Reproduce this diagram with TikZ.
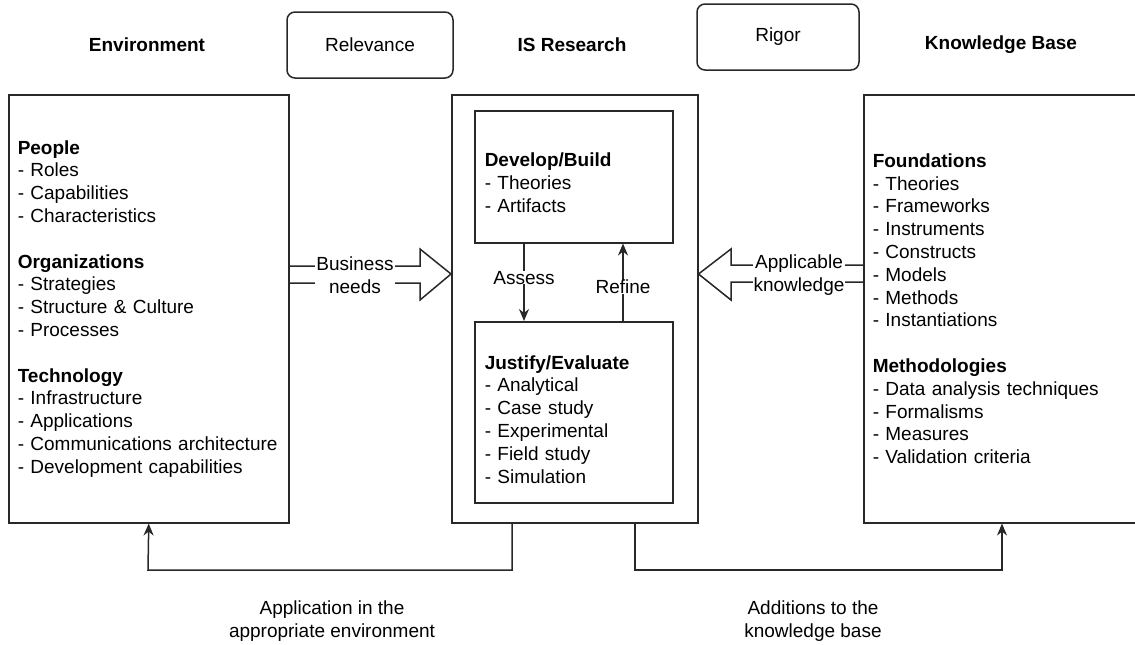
\documentclass[tikz,border=0pt]{standalone}
\usepackage{fontspec}
\setmainfont{Liberation Sans}
\usetikzlibrary{positioning, arrows.meta, calc}
\definecolor{linegray}{RGB}{40,40,40}

\begin{document}
\begin{tikzpicture}[
  x=1pt, y=-1pt,
  font=\fontsize{19}{22.8}\selectfont,
  box/.style={draw=linegray, line width=1.5pt, align=left, anchor=north west,
              inner xsep=9pt, inner ysep=0pt},
  tag/.style={draw=linegray, line width=1.5pt, rounded corners=8pt, minimum height=66pt},
  title/.style={font=\fontsize{19}{22.8}\selectfont\bfseries},
  lbl/.style={align=center, inner xsep=1pt, inner ysep=0pt},
  blockarrow/.style={draw=linegray, line width=1.5pt, line join=miter},
  arr/.style={-{Stealth[length=12pt, width=10pt]}, draw=linegray, line width=1.5pt}
]
  \useasboundingbox (0,0) rectangle (1135,645);
  \clip (0,0) rectangle (1135,645);

  % titles on top
  \node[title] (envtitle) at (147,45) {Environment};
  \node[tag, minimum width=166pt] (relevance) at (370,45) {Relevance};
  \node[title] (istitle) at (572,45) {IS Research};
  \node[tag, minimum width=162pt] (rigor) at (778,37) {Rigor};
  \node[title] (kbtitle) at (1001,45) {Knowledge Base};

  % the three columns
  \node[box, minimum width=280pt, minimum height=428pt, text width=262pt] (env) at (8,94)
    {\textbf{People}\\- Roles\\- Capabilities\\- Characteristics\\[22.8pt]
     \textbf{Organizations}\\- Strategies\\- Structure \& Culture\\- Processes\\[22.8pt]
     \textbf{Technology}\\- Infrastructure\\- Applications\\- Communications architecture\\- Development capabilities};
  \node[box, minimum width=246pt, minimum height=428pt] (isr) at (451,94) {};
  \node[box, minimum width=198pt, minimum height=132pt, text width=178pt, inner xsep=10pt] (dev) at (474,110)
    {\rule{0pt}{26pt}\textbf{Develop/Build}\\- Theories\\- Artifacts};
  \node[box, minimum width=198pt, minimum height=181pt, text width=178pt, inner xsep=10pt] (jus) at (474,321)
    {\rule{0pt}{28pt}\textbf{Justify/Evaluate}\\- Analytical\\- Case study\\- Experimental\\- Field study\\- Simulation};
  \node[box, minimum width=290pt, minimum height=428pt, text width=272pt] (kb) at (863,94)
    {\textbf{Foundations}\\- Theories\\- Frameworks\\- Instruments\\- Constructs\\- Models\\- Methods\\- Instantiations\\[22.8pt]
     \textbf{Methodologies}\\- Data analysis techniques\\- Formalisms\\- Measures\\- Validation criteria};

  % block arrows
  \draw[blockarrow] (env.east |- 0,266) -- (420,266) -- (420,249) -- (isr.west |- 0,274)
    -- (420,300) -- (420,283) -- (env.east |- 0,283);
  \node[lbl, fill=white] (bizneeds) at (355,275) {Business\\needs};
  \draw[blockarrow] (kb.west |- 0,265) -- (731,265) -- (731,249) -- (isr.east |- 0,274)
    -- (731,300) -- (731,282) -- (kb.west |- 0,282);
  \node[lbl, fill=white] (applknow) at (799,275) {Applicable\\knowledge};

  % assess / refine
  \draw[arr] (dev.south -| 524,0) -- node[lbl, fill=white, pos=0.44] (assess) {Assess} (jus.north -| 524,0);
  \draw[arr] (jus.north -| 623,0) -- node[lbl, fill=white, pos=0.44] (refine) {Refine} (dev.south -| 623,0);

  % feedback to the sides
  \draw[arr] (isr.south -| 512,0) |- (148,570) -- (env.south);
  \draw[arr] (isr.south -| 635,0) |- (1002,570) -- (kb.south -| 1002,0);
  \node[lbl] (applenv) at (332,621) {Application in the\\appropriate environment};
  \node[lbl] (addkb) at (813,621) {Additions to the\\knowledge base};
\end{tikzpicture}
\end{document}
